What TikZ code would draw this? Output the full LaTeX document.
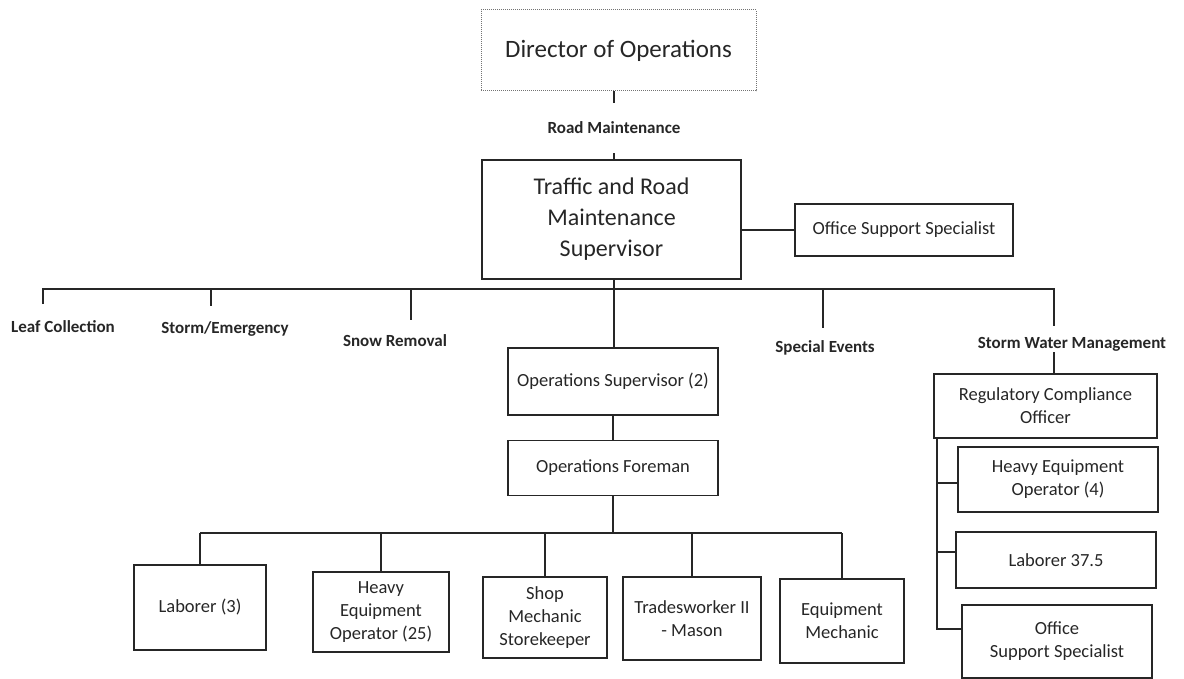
\documentclass[tikz,border=0pt]{standalone}
\usepackage{fontspec}
\setmainfont{Carlito}
\usetikzlibrary{positioning}

\begin{document}
\begin{tikzpicture}[x=1pt,y=-1pt,color=black!85,line width=1.3pt,
  box/.style={draw,align=center,inner sep=2pt,font=\fontsize{18.5}{23}\selectfont},
  big/.style={box,font=\fontsize{24}{31}\selectfont},
  grp/.style={inner sep=0pt,outer sep=0pt,font=\fontsize{17}{20}\selectfont\bfseries}]
  \useasboundingbox (0,0) rectangle (1184,679);

  \node[box, draw=black!55, densely dotted, line width=1pt, font=\fontsize{25}{30}\selectfont,
        minimum width=275pt, minimum height=81pt] (dir) at (618.5,50.5) {Director of Operations};
  \node[grp, outer ysep=19pt] (road) at (614,128) {Road Maintenance};
  \node[big, minimum width=259pt, minimum height=119pt] (trs) at (611.5,219.5) {Traffic and Road\\Maintenance\\Supervisor};
  \node[box, minimum width=218pt, minimum height=52pt] (oss) at (904,230) {Office Support Specialist};

  % divisions
  \node[grp] (leaf) at (63,327) {Leaf Collection};
  \node[grp] (storm) at (225,329) {Storm/Emergency};
  \node[grp] (snow) at (395,341) {Snow Removal};
  \node[grp] (spec) at (825,348) {Special Events};
  \node[grp] (swm) at (1072,344) {Storm Water Management};
  \coordinate (bus) at (614,289);
  \coordinate (tleaf) at (43,304);
  \coordinate (tstorm) at (211,306);
  \coordinate (tsnow) at (411,320);
  \coordinate (tspec) at (823,328);
  \coordinate (tswm) at (1054,326);
  \coordinate (bswm) at (1054,352);

  \node[box, minimum width=210pt, minimum height=67pt] (ops) at (613,381.5) {Operations Supervisor (2)};
  \node[box, minimum width=210pt, minimum height=55pt, below=24pt of ops] (fore) {Operations Foreman};

  % crews
  \coordinate (bus2) at (614,533);
  \node[box, minimum width=132pt, minimum height=85pt] (lab3) at (200,607.5) {Laborer (3)};
  \node[box, minimum width=136pt, minimum height=80pt] (heo25) at (381,612) {Heavy\\Equipment\\Operator (25)};
  \node[box, minimum width=124pt, minimum height=81pt] (shop) at (545,617.5) {Shop\\Mechanic\\Storekeeper};
  \node[box, minimum width=138pt, minimum height=83pt] (trade) at (692,618.5) {Tradesworker II\\- Mason};
  \node[box, minimum width=124pt, minimum height=84pt] (eqm) at (842,621) {Equipment\\Mechanic};

  % storm water
  \node[box, minimum width=223pt, minimum height=64pt] (rco) at (1045.5,406) {Regulatory Compliance\\Officer};
  \node[box, minimum width=200pt, minimum height=65pt] (heo4) at (1058,479.5) {Heavy Equipment\\Operator (4)};
  \node[box, minimum width=200pt, minimum height=56pt] (lab375) at (1056,560) {Laborer 37.5};
  \node[box, minimum width=190pt, minimum height=73pt] (oss2) at (1057,641.5) {Office\\Support Specialist};
  \coordinate (b1) at (937,483);
  \coordinate (b2) at (937,552);
  \coordinate (b3) at (937,629);

  \draw (dir.south -| road) -- (road.north) (road.south) -- (trs.north -| road);
  \draw (trs.east |- oss.west) -- (oss.west);
  \draw (trs.south -| bus) -- (ops.north -| bus);
  \draw (tleaf) |- (bus) -| (tswm);
  \foreach \t in {tstorm,tsnow,tspec} \draw (\t |- bus) -- (\t);
  \draw (bswm) -- (bswm |- rco.north);
  \draw (ops) -- (fore);
  \draw (fore.south) -- (fore.south |- bus2);
  \draw (lab3.north |- bus2) -- (eqm.north |- bus2);
  \foreach \b in {lab3,heo25,shop,trade,eqm} \draw (\b.north |- bus2) -- (\b.north);
  \draw (rco.south -| b3) -- (b3) -- (b3 -| oss2.west);
  \draw (b1) -- (b1 -| heo4.west) (b2) -- (b2 -| lab375.west);
\end{tikzpicture}
\end{document}
